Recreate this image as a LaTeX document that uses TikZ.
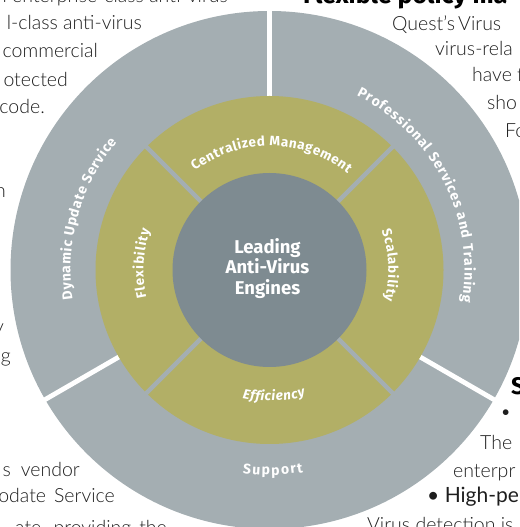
\documentclass[tikz,border=0pt]{standalone}
\usepackage{fontspec}
\setmainfont{Fira Sans}
\IfFontExistsTF{Lato Light}{\newfontfamily\bodyfont{Lato Light}}{\newfontfamily\bodyfont{Lato}}
\newfontfamily\subfont{Lato}
\usetikzlibrary{decorations.text}
\definecolor{ringgray}{HTML}{A4AEB2}
\definecolor{ringolive}{HTML}{B2AF66}
\definecolor{coregray}{HTML}{7E8B91}
\definecolor{bodyink}{HTML}{1E1E1E}
\newcommand\outerlbl{\color{white}\bfseries\fontsize{14}{14}\selectfont}
\newcommand\innerlbl{\color{white}\bfseries\fontsize{13.5}{13.5}\selectfont}
\newcommand\innerlblit{\color{white}\bfseries\itshape\fontsize{13.5}{13.5}\selectfont}
\begin{document}
\begin{tikzpicture}[x=1pt,y=1pt,
  bodytxt/.style={font=\bodyfont\fontsize{19.5}{24}\selectfont, text=bodyink, inner sep=0pt},
  lefttxt/.style={bodytxt, anchor=base east},
  righttxt/.style={bodytxt, anchor=base west},
  headtxt/.style={font=\bfseries\fontsize{25}{28}\selectfont, text=black, inner sep=0pt, anchor=base west},
  ringlbl/.style={decorate, decoration={text along path, text align=fit to path, text={#1}}}]
\useasboundingbox (0,0) rectangle (519,527);
\clip (0,0) rectangle (519,527);
\coordinate (C) at (269.5,257);
% rings
\fill[ringgray] (C) circle[radius=259pt];
\foreach \a in {90,210,330}
  \draw[white,line width=4.8pt] ([shift={(\a:170pt)}]C) -- ([shift={(\a:268pt)}]C);
\fill[ringolive] (C) circle[radius=174pt];
\foreach \a in {45,135,225,315}
  \draw[ringgray,line width=4.5pt] ([shift={(\a:90pt)}]C) -- ([shift={(\a:176pt)}]C);
\fill[coregray] (C) circle[radius=97pt];
% core text
\node[font=\bfseries\fontsize{18.5}{20.5}\selectfont, text=white, align=center, inner sep=0pt] (core) at (267.5,258.5) {Leading\\Anti-Virus\\Engines};
% outer ring labels
\path[ringlbl={|\outerlbl|Dynamic Update Service}] ([shift={(188.5:199pt)}]C) arc[start angle=188.5, end angle=140, radius=199pt];
\path[ringlbl={|\outerlbl|Professional Services and Training}] ([shift={(63.5:195pt)}]C) arc[start angle=63.5, end angle=-9.5, radius=195pt];
\path[ringlbl={|\outerlbl|Support}] ([shift={(-97.5:205pt)}]C) arc[start angle=-97.5, end angle=-80.5, radius=205pt];
% olive ring labels
\path[ringlbl={|\innerlbl|Centralized Management}] ([shift={(127:124pt)}]C) arc[start angle=127, end angle=51, radius=124pt];
\path[ringlbl={|\innerlbl|Flexibility}] ([shift={(192.5:126pt)}]C) arc[start angle=192.5, end angle=161.5, radius=126pt];
\path[ringlbl={|\innerlbl|Scalability}] ([shift={(19.5:119pt)}]C) arc[start angle=19.5, end angle=-15, radius=119pt];
\path[ringlbl={|\innerlblit|Efficiency}] ([shift={(-102:131pt)}]C) arc[start angle=-102, end angle=-74, radius=131pt];
% surrounding text, left
\node[lefttxt] (l1) at (228,524) {l enterprise-class anti-virus};
\node[lefttxt] (l2) at (142,497) {l-class anti-virus};
\node[lefttxt] (l3) at (98,469) {commercial};
\node[lefttxt] (l4) at (68,440) {otected};
\node[lefttxt] (l5) at (45,413) {code.};
\node[lefttxt] (l6) at (6,329) {n};
\node[lefttxt] (l7) at (4,193) {y};
\node[lefttxt] (l8) at (11,164) {g};
\node[lefttxt] (l9) at (80,50) {s\hspace{10pt}vendor};
\node[lefttxt] (l10) at (115,24) {odate\hspace{8pt}Service};
\node[lefttxt] (l11) at (167,-7) {ate,\hspace{8pt}providing\hspace{8pt}the};
% surrounding text, right
\node[headtxt] (h1) at (303,523) {Flexible policy ma};
\node[righttxt] (r1) at (392,496) {Quest’s\hspace{3pt}Virus};
\node[righttxt] (r2) at (435,471) {virus-rela};
\node[righttxt] (r3) at (472,445) {have f};
\node[righttxt] (r4) at (487,417) {sho};
\node[righttxt] (r5) at (505,389) {Fo};
\node[headtxt, font=\bfseries\fontsize{24}{28}\selectfont] (h2) at (511,132) {S};
\node[righttxt] (r6) at (500,108) {•};
\node[righttxt] (r7) at (480,77) {The};
\node[righttxt] (r8) at (453,49) {enterpr};
\node[righttxt, font=\subfont\fontsize{21}{24}\selectfont] (r9) at (427,24) {• High-pe};
\node[righttxt] (r10) at (367,-5) {Virus detection is};
\end{tikzpicture}
\end{document}
